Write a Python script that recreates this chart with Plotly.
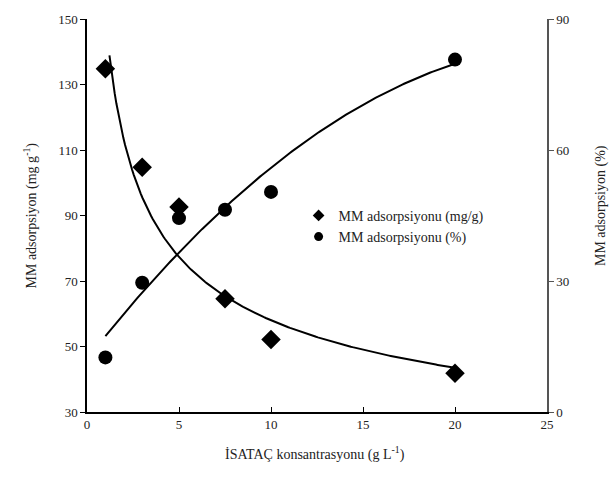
import numpy as np
import plotly.graph_objects as go

# Data
conc = [1, 3, 5, 7.5, 10, 20]                      # İSATAÇ konsantrasyonu (g L-1)
ads_mg = [134.8, 104.7, 92.6, 64.6, 52.1, 41.8]    # MM adsorpsiyonu (mg/g)
ads_pct = [12.5, 29.6, 44.4, 46.3, 50.4, 80.7]     # MM adsorpsiyonu (%)
x_ticks = [0, 5, 10, 15, 20, 25]
y_left_ticks = [30, 50, 70, 90, 110, 130, 150]
y_right_ticks = [0, 30, 60, 90]
series_names = ["MM adsorpsiyonu (mg/g)", "MM adsorpsiyonu (%)"]

# Trendlines fitted from the data (power fit and 2nd order polynomial)
xa = np.array(conc, dtype=float)
b_pow, ln_a = np.polyfit(np.log(xa), np.log(ads_mg), 1)
x_pow = np.linspace(1.22, 20, 200)
y_pow = np.exp(ln_a) * x_pow ** b_pow
poly = np.polyfit(xa, ads_pct, 2)
x_poly = np.linspace(1, 20, 200)
y_poly = np.polyval(poly, x_poly)

FONT = "Liberation Serif"
fig = go.Figure()
fig.add_trace(go.Scatter(x=x_pow, y=y_pow, mode="lines", line=dict(color="black", width=2),
                         showlegend=False, hoverinfo="skip"))
fig.add_trace(go.Scatter(x=x_poly, y=y_poly, mode="lines", line=dict(color="black", width=2),
                         showlegend=False, hoverinfo="skip", yaxis="y2"))
fig.add_trace(go.Scatter(x=conc, y=ads_mg, mode="markers", name=series_names[0], showlegend=False,
                         marker=dict(symbol="diamond", size=15, color="black")))
fig.add_trace(go.Scatter(x=conc, y=ads_pct, mode="markers", name=series_names[1], showlegend=False,
                         marker=dict(symbol="circle", size=14, color="black"), yaxis="y2"))
# legend entries with small markers, like the reference
fig.add_trace(go.Scatter(x=[None], y=[None], mode="markers", name=series_names[0],
                         marker=dict(symbol="diamond", size=9, color="black")))
fig.add_trace(go.Scatter(x=[None], y=[None], mode="markers", name=series_names[1],
                         marker=dict(symbol="circle", size=9, color="black")))

fig.update_layout(
    width=612, height=482,
    margin=dict(l=87, r=65, t=17, b=70),
    paper_bgcolor="white", plot_bgcolor="white",
    font=dict(family=FONT, size=13, color="#222"),
    xaxis=dict(range=[0, 25], tickvals=x_ticks, showline=True, linecolor="black", linewidth=1.5,
               ticks="inside", ticklen=5, tickcolor="black", showgrid=False, zeroline=False,
               tickfont=dict(size=13)),
    yaxis=dict(range=[30, 150], tickvals=y_left_ticks, showline=True, linecolor="black", linewidth=1.5,
               ticks="outside", ticklen=5, tickcolor="black", showgrid=False, zeroline=False,
               tickfont=dict(size=13)),
    yaxis2=dict(range=[0, 90], tickvals=y_right_ticks, overlaying="y", side="right",
                showline=True, linecolor="#555", linewidth=1.5, ticks="outside", ticklen=5,
                tickcolor="#555", showgrid=False, zeroline=False, tickfont=dict(size=13)),
    legend=dict(x=0.46, y=0.54, xanchor="left", yanchor="top", bgcolor="rgba(0,0,0,0)",
                font=dict(family=FONT, size=14), itemsizing="trace", itemwidth=30,
                tracegroupgap=0),
    annotations=[
        dict(text="MM adsorpsiyon (mg g<sup>-1</sup>)", textangle=-90, x=20, y=215,
             xref="paper", yref="paper", showarrow=False, font=dict(size=14)),
        dict(text="MM adsorpsiyon (%)", textangle=-90, x=611, y=205, xanchor="right",
             xref="paper", yref="paper", showarrow=False, font=dict(size=14)),
        dict(text="İSATAÇ konsantrasyonu (g L<sup>-1</sup>)", x=315, y=465,
             xref="paper", yref="paper", showarrow=False, font=dict(size=14)),
    ],
)
# convert annotation pixel positions to paper coordinates
pw, ph = 612 - 87 - 65, 482 - 17 - 70
for a in fig.layout.annotations:
    a.x = (a.x - 87) / pw
    a.y = (482 - 70 - a.y) / ph
fig.write_html("out.html")
